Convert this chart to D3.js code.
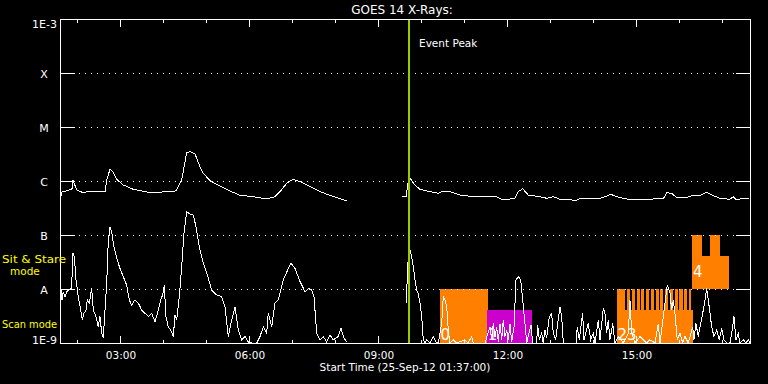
<!DOCTYPE html>
<html><head><meta charset="utf-8">
<script src="https://cdn.jsdelivr.net/npm/d3@7"></script>
<style>
html,body{margin:0;padding:0;background:#000;}
svg{display:block;}
text{font-family:"DejaVu Sans",sans-serif;fill:#fff;}
</style></head><body>
<svg id="c" width="768" height="384"></svg>
<script>
// ---------------- data ----------------
const titleText = "GOES 14 X-Rays:";
const startLabel = "Start Time (25-Sep-12 01:37:00)";
const startTime = Date.UTC(2012, 8, 25, 1, 37, 0);
const spanMinutes = 961.4;           // minutes shown after start
const eventPeakMin = 485.6;          // minutes after start
const yTickValues = [1e-9, 1e-8, 1e-7, 1e-6, 1e-5, 1e-4, 1e-3];
const yTickLabels = ["1E-9", "A", "B", "C", "M", "X", "1E-3"];
const modeLabels = [["Sit & Stare", "mode"], ["Scan mode"]];

// [minutes after start, log10 flux (W/m^2)]  ; null = data gap
const longChannel = [
 [0,-6.278],[1.4,-6.204],[7,-6.185],[15.3,-6.148],[16.7,-5.981],[21.9,-6.167],[31.1,-6.217],[40.5,-6.185],[54.4,-6.198],[61.4,-6.198],
 [63.8,-5.981],[68.4,-5.783],[72.1,-5.828],[77.7,-5.969],[86.9,-6.074],[100.9,-6.154],[119.6,-6.204],[133.5,-6.217],[147.5,-6.191],[156.7,-6.204],
 [161.4,-6.167],[168.4,-5.981],[175.4,-5.476],[180,-5.457],[187,-5.500],[193.9,-5.735],[198.6,-5.857],[207.9,-5.994],[221.9,-6.093],[235.8,-6.185],
 [249.8,-6.265],[268.3,-6.291],[287,-6.333],[298.6,-6.291],[305.6,-6.198],[314.9,-6.043],[323.3,-5.969],[333.5,-6.013],[342.8,-6.074],[356.8,-6.167],
 [370.7,-6.246],[384.7,-6.309],[398.6,-6.365],
 [437,null],
 [475.4,-6.278],[482.4,-6.278],[483.2,-6.074],[487,-5.950],[493.9,-6.074],[500.9,-6.154],[514.9,-6.198],[526.4,-6.228],[533.4,-6.185],[542.8,-6.198],
 [556.7,-6.259],[575.3,-6.291],[594,-6.291],[607.9,-6.296],[617.1,-6.352],[633.5,-6.320],[638.1,-6.198],[644.2,-6.143],[652,-6.259],[668.4,-6.291],
 [677.7,-6.320],[686.9,-6.291],[696.3,-6.339],[719.5,-6.357],[724.2,-6.320],[752.1,-6.320],[759,-6.291],[767,-6.246],[775.4,-6.291],[789.3,-6.333],
 [807.9,-6.352],[826.4,-6.333],[840.4,-6.333],[845.1,-6.217],[852.1,-6.228],[859.1,-6.309],[873,-6.309],[880,-6.272],[891.6,-6.272],[900.9,-6.209],
 [907.9,-6.259],[919.5,-6.320],[933.4,-6.339],[938.1,-6.291],[941.8,-6.339],[947.4,-6.333],[960.4,-6.320]
];

const shortChannel = [
 [0,-8.02],[1.4,-8.20],[3.2,-8.05],[5.6,-8.14],[8.0,-8.05],[10.2,-8.02],[14.9,-7.99],[16.3,-7.33],[18.6,-7.40],[20.9,-7.83],
 [24.1,-8.14],[27.5,-8.39],[29.7,-8.57],[32.1,-8.45],[34.9,-8.39],[36.7,-8.20],[39.5,-8.26],[42.8,-7.99],[45.1,-8.39],[48.8,-8.51],
 [52.0,-8.70],[54.4,-8.51],[56.8,-8.82],[59.0,-8.91],[61.4,-8.39],[63.8,-7.89],[66.0,-7.09],[68.4,-6.86],[70.7,-6.94],[73.9,-7.22],
 [77.7,-7.43],[82.3,-7.62],[86.9,-7.77],[91.7,-7.93],[95.3,-8.20],[98.6,-8.30],[103.2,-8.20],[107.9,-8.26],[112.6,-8.39],[117.2,-8.45],
 [121.8,-8.51],[126.6,-8.45],[131.2,-8.61],[135.8,-8.39],[139.1,-8.20],[141.9,-8.11],[144.1,-7.93],[146.5,-8.51],[149.7,-8.70],[153.1,-8.76],
 [156.7,-8.88],[159.1,-8.48],[161.4,-8.57],[165.1,-8.14],[168.4,-7.59],[171.6,-6.97],[175.4,-6.57],[180.0,-6.61],[184.6,-6.63],[188.4,-6.85],
 [193.0,-7.22],[198.6,-7.52],[205.5,-7.80],[210.3,-8.02],[217.2,-8.11],[224.2,-8.14],[228.8,-8.33],[233.4,-8.88],[238.2,-8.57],[242.8,-8.33],
 [247.4,-8.76],[252.1,-8.94],[256.7,-8.88],[261.3,-8.98],[266.1,-9],[273.1,-9],[277.7,-8.88],[282.3,-8.70],[287.0,-8.82],[289.2,-8.45],
 [294.0,-8.70],[298.6,-8.26],[303.2,-8.20],[310.2,-7.83],[317.2,-7.62],[320.9,-7.52],[326.5,-7.62],[333.5,-7.86],[340.5,-8.05],[345.1,-7.99],
 [349.8,-8.02],[353.0,-8.14],[356.8,-8.82],[361.4,-8.94],[366.0,-8.88],[370.7,-8.98],[375.3,-8.85],[379.9,-8.94],[386.9,-8.88],[390.7,-8.73],
 [394.9,-8.91],[398.6,-8.98],
 [440,null],
 [482.4,-8.26],[483.2,-7.59],[487.0,-7.28],[489.3,-7.40],[491.6,-7.59],[493.9,-7.83],[496.3,-8.02],[498.5,-8.08],[500.9,-8.26],[503.3,-8.51],
 [505.5,-8.94],[507.9,-9],[510.3,-8.94],[514.9,-9],[519.5,-8.88],[523.2,-8.98],[526.4,-9],[531.2,-8.64],[533.4,-8.14],[535.8,-8.20],
 [538.2,-8.33],[540.4,-8.76],[542.8,-9],[547.4,-8.94],[552.1,-9],[563.7,-8.94],[567.9,-9],[573.1,-8.88],[575.3,-9],[591.6,-9],
 [598.6,-8.70],[601.0,-8.94],[603.2,-8.64],[605.6,-8.88],[607.9,-8.70],[610.2,-8.98],[612.5,-8.64],[614.9,-8.94],[617.1,-8.57],[619.5,-8.88],
 [621.9,-8.76],[624.1,-8.94],[626.5,-8.64],[628.8,-8.98],[632.1,-8.70],[634.9,-7.83],[638.1,-7.77],[641.4,-7.83],[644.2,-8.20],[647.4,-8.64],
 [649.8,-9],[653.0,-8.82],[655.8,-8.67],[658.2,-9],[663.7,-9],[665.1,-8.67],[667.4,-8.94],[670.7,-8.82],[672.9,-9],[675.3,-8.76],
 [677.7,-8.91],[681.3,-8.51],[684.7,-8.46],[686.9,-8.82],[690.3,-8.94],[693.0,-8.64],[696.3,-8.33],[698.6,-8.51],[700.9,-9],[718.6,-9],
 [720.4,-8.70],[723.2,-8.94],[727.9,-8.45],[729.7,-8.94],[735.7,-8.64],[739.1,-8.94],[742.7,-8.82],[745.1,-9],[749.7,-8.57],[752.1,-8.94],
 [756.7,-8.36],[759.0,-8.45],[761.4,-8.82],[763.6,-8.57],[766.0,-8.94],[769.8,-8.64],[773.0,-9],[777.6,-8.88],[784.6,-9],[791.6,-8.82],
 [793.9,-8.20],[796.3,-8.82],[800.9,-9],[807.9,-8.88],[817.2,-9],[821.8,-8.94],[828.8,-9],[833.4,-8.64],[835.8,-9],[840.4,-8.51],
 [842.8,-8.26],[846.0,-7.93],[849.8,-8.08],[852.1,-8.39],[854.4,-8.20],[856.7,-8.45],[859.9,-8.94],[863.7,-8.82],[867.5,-9],[870.7,-8.88],
 [875.3,-9],[881.4,-8.70],[883.2,-8.94],[886.0,-8.64],[889.2,-8.88],[891.6,-8.70],[895.4,-8.45],[898.6,-8.20],[900.9,-7.99],[903.2,-8.20],
 [905.6,-8.45],[907.9,-8.70],[911.1,-8.88],[914.9,-8.76],[918.5,-8.94],[921.9,-8.73],[925.1,-8.94],[928.8,-9],[933.4,-9],[937.2,-8.70],
 [939.0,-8.51],[941.8,-8.94],[945.0,-8.82],[947.4,-9],[952.0,-8.94],[955.8,-9],[959.0,-8.94],[961.4,-9]
];

// observation blocks: [start min, end min, low log10, high log10, kind]
const obsBlocks = [
 [528.8, 595.4, -9, -8, "sit"],
 [594.4, 657.2, -9, -8.39, "scan"],
 [775.8, 881.4, -9, -8.39, "sit"],
 [775.8, 787.4, -8.39, -8, "sit"], [789.7, 793.9, -8.39, -8, "sit"], [796.3, 800.9, -8.39, -8, "sit"],
 [803.3, 807.5, -8.39, -8, "sit"], [809.8, 813.9, -8.39, -8, "sit"], [816.2, 820.8, -8.39, -8, "sit"],
 [823.2, 827.4, -8.39, -8, "sit"], [829.8, 834.0, -8.39, -8, "sit"], [836.3, 840.4, -8.39, -8, "sit"],
 [842.8, 847.4, -8.39, -8, "sit"], [849.8, 854.0, -8.39, -8, "sit"], [856.3, 860.5, -8.39, -8, "sit"],
 [862.8, 867.5, -8.39, -8, "sit"], [869.8, 873.9, -8.39, -8, "sit"], [876.2, 878.6, -8.39, -8, "sit"],
 [880.4, 894.4, -8, -7, "sit"], [894.4, 905.6, -8, -7.39, "sit"], [905.6, 919.5, -8, -7, "sit"], [919.5, 932.1, -8, -7.39, "sit"]
];
// block number labels: [text, minutes, log10 baseline]
const obsLabels = [["0", 529.5, -8.94], ["1", 595.5, -8.94], ["23", 776.5, -8.94], ["4", 882, -7.78]];

// ---------------- drawing ----------------
const kindColor = {sit: "#ff8000", scan: "#cc00cc"};
const L = 61, R = 750, T = 19, B = 343;
const svg = d3.select("#c");
svg.append("rect").attr("width", 768).attr("height", 384).attr("fill", "#000");

const tOf = m => new Date(startTime + m * 60000);
const fOf = l => Math.pow(10, l);
const x = d3.scaleUtc().domain([tOf(0), tOf(spanMinutes)]).range([L, R]);
const y = d3.scaleLog().domain([1e-9, 1e-3]).range([B, T]).clamp(true);

// observation blocks
svg.append("g").selectAll("rect").data(obsBlocks).join("rect")
  .attr("x", d => x(tOf(d[0])))
  .attr("width", d => x(tOf(d[1])) - x(tOf(d[0])))
  .attr("y", d => y(fOf(d[3])))
  .attr("height", d => y(fOf(d[2])) - y(fOf(d[3])))
  .attr("fill", d => kindColor[d[4]])
  .attr("shape-rendering", "crispEdges");

svg.append("g").selectAll("text").data(obsLabels).join("text")
  .attr("x", d => x(tOf(d[1])))
  .attr("y", d => y(fOf(d[2])))
  .attr("font-size", 15)
  .text(d => d[0]);

// grid: ticks and dotted lines
const grid = svg.append("g").attr("stroke", "#fff").attr("shape-rendering", "crispEdges");
const inner = yTickValues.slice(1, -1);
grid.selectAll("line.l").data(inner).join("line").attr("class", "l")
  .attr("x1", L).attr("x2", L + 14).attr("y1", d => y(d) + 0.5).attr("y2", d => y(d) + 0.5);
grid.selectAll("line.r").data(inner).join("line").attr("class", "r")
  .attr("x1", R - 14).attr("x2", R + 1).attr("y1", d => y(d) + 0.5).attr("y2", d => y(d) + 0.5);
grid.selectAll("line.d").data(inner).join("line").attr("class", "d")
  .attr("x1", L + 18).attr("x2", R - 15).attr("y1", d => y(d) + 0.5).attr("y2", d => y(d) + 0.5)
  .attr("stroke-dasharray", "1,5");

// curves
const line = d3.line()
  .defined(d => d[1] !== null)
  .x(d => x(tOf(d[0])))
  .y(d => y(fOf(d[1])));
svg.append("path").datum(longChannel).attr("d", line)
  .attr("fill", "none").attr("stroke", "#fff").attr("stroke-width", 1).attr("shape-rendering", "crispEdges");
svg.append("path").datum(shortChannel).attr("d", line)
  .attr("fill", "none").attr("stroke", "#fff").attr("stroke-width", 1).attr("shape-rendering", "crispEdges");

// event peak
const ex = x(tOf(eventPeakMin));
svg.append("line").attr("x1", ex).attr("x2", ex).attr("y1", T).attr("y2", B)
  .attr("stroke", "#99cc00").attr("stroke-width", 2).attr("shape-rendering", "crispEdges");
svg.append("text").attr("x", ex + 10).attr("y", 47).attr("font-size", 10.5).text("Event Peak");

// frame
svg.append("rect").attr("x", L - 0.5).attr("y", T + 0.5).attr("width", R - L + 1).attr("height", B - T)
  .attr("fill", "none").attr("stroke", "#fff").attr("shape-rendering", "crispEdges");

// time axes
const hours = d3.utcHour.range(tOf(0), tOf(spanMinutes));
const isMajor = d => d.getUTCHours() % 3 === 0;
const bottomAxis = d3.axisBottom(x).tickValues(hours).tickSizeInner(-3).tickSizeOuter(0)
  .tickFormat(d => isMajor(d) ? d3.utcFormat("%H:%M")(d) : "");
const gb = svg.append("g").attr("transform", `translate(0,${B})`).call(bottomAxis);
gb.select(".domain").remove();
gb.selectAll(".tick line").attr("stroke", "#fff").attr("y2", d => isMajor(d) ? -7 : -3).attr("shape-rendering", "crispEdges");
gb.selectAll(".tick text").attr("y", 16).attr("dy", null).attr("fill", "#fff")
  .attr("font-size", 10.5).attr("font-family", "DejaVu Sans");

const topAxis = d3.axisTop(x).tickValues(hours).tickSizeInner(-3).tickSizeOuter(0).tickFormat("");
const gt = svg.append("g").attr("transform", `translate(0,${T + 1})`).call(topAxis);
gt.select(".domain").remove();
gt.selectAll(".tick line").attr("stroke", "#fff").attr("y2", d => isMajor(d) ? 7 : 3).attr("shape-rendering", "crispEdges");

// y labels
const yAxis = d3.axisLeft(y).tickValues(yTickValues).tickSize(0)
  .tickFormat((d, i) => yTickLabels[i]);
const gy = svg.append("g").attr("transform", `translate(${L},0)`).call(yAxis);
gy.select(".domain").remove();
gy.selectAll(".tick text")
  .attr("fill", "#fff").attr("font-size", 11).attr("font-family", "DejaVu Sans")
  .attr("dy", null)
  .attr("x", (d, i) => yTickLabels[i].length > 1 ? -4 : -17)
  .attr("text-anchor", (d, i) => yTickLabels[i].length > 1 ? "end" : "middle")
  .attr("y", (d, i) => i === yTickValues.length - 1 ? 8 : (i === 0 ? 0 : 4));

// mode labels
const ml = svg.append("g").attr("font-size", 10.5);
ml.append("text").attr("x", 2).attr("y", 263).attr("textLength", 64).attr("lengthAdjust", "spacingAndGlyphs")
  .style("fill", "#ffff00").text(modeLabels[0][0]);
ml.append("text").attr("x", 10).attr("y", 275)
  .style("fill", "#ffff00").text(modeLabels[0][1]);
ml.append("text").attr("x", 2).attr("y", 328).attr("textLength", 55).attr("lengthAdjust", "spacingAndGlyphs")
  .style("fill", "#ffff00").text(modeLabels[1][0]);

// titles
svg.append("text").attr("x", 402).attr("y", 13.5).attr("text-anchor", "middle").attr("font-size", 12).text(titleText);
svg.append("text").attr("x", 405).attr("y", 371).attr("text-anchor", "middle").attr("font-size", 10.5).text(startLabel);
</script>
</body></html>
